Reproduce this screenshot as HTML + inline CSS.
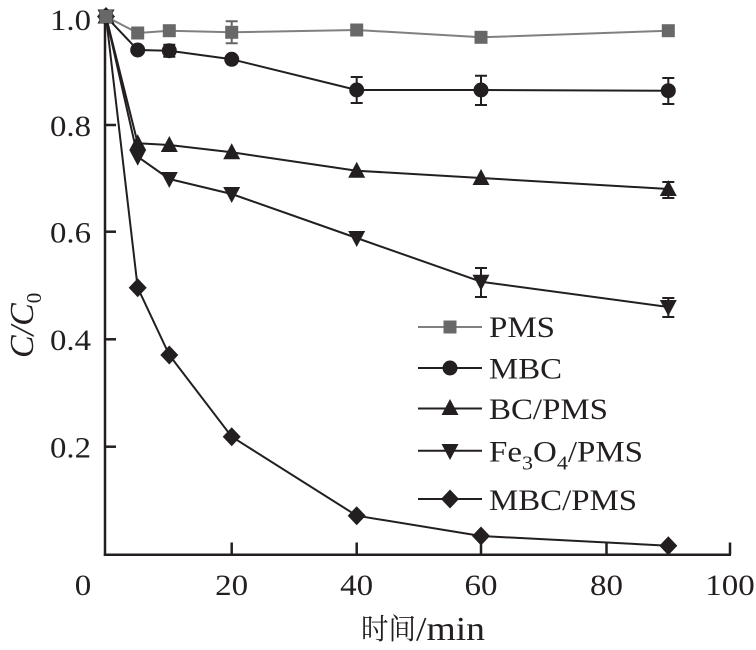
<!DOCTYPE html>
<html><head><meta charset="utf-8"><style>
html,body{margin:0;padding:0;background:#fff;}
svg{display:block;}
text{font-family:"Liberation Serif","Noto Serif CJK SC",serif;fill:#231f20;}
</style></head><body>
<svg width="756" height="650" viewBox="0 0 756 650" xmlns="http://www.w3.org/2000/svg">
<!-- axes -->
<g stroke="#231f20" stroke-width="2.5" fill="none">
<line x1="105" y1="15" x2="105" y2="555.9"/>
<line x1="103.8" y1="554.7" x2="731" y2="554.7"/>
<line x1="105" y1="125" x2="116" y2="125"/>
<line x1="105" y1="231.7" x2="116" y2="231.7"/>
<line x1="105" y1="339.3" x2="116" y2="339.3"/>
<line x1="105" y1="446.7" x2="116" y2="446.7"/>
<line x1="231.7" y1="554.7" x2="231.7" y2="542.5"/>
<line x1="356.7" y1="554.7" x2="356.7" y2="542.5"/>
<line x1="481" y1="554.7" x2="481" y2="542.5"/>
<line x1="606.5" y1="554.7" x2="606.5" y2="542.5"/>
<line x1="730" y1="554.7" x2="730" y2="542.5"/>
</g>
<!-- y tick labels -->
<g font-size="30" text-anchor="end">
<text x="91" y="30" textLength="41" lengthAdjust="spacingAndGlyphs">1.0</text>
<text x="91" y="136" textLength="41" lengthAdjust="spacingAndGlyphs">0.8</text>
<text x="91" y="242.5" textLength="41" lengthAdjust="spacingAndGlyphs">0.6</text>
<text x="91" y="350" textLength="41" lengthAdjust="spacingAndGlyphs">0.4</text>
<text x="91" y="457.5" textLength="41" lengthAdjust="spacingAndGlyphs">0.2</text>
</g>
<!-- x tick labels -->
<g font-size="30" text-anchor="middle">
<text x="83" y="595" textLength="16.5" lengthAdjust="spacingAndGlyphs">0</text>
<text x="231.7" y="595" textLength="33" lengthAdjust="spacingAndGlyphs">20</text>
<text x="356.7" y="595" textLength="33" lengthAdjust="spacingAndGlyphs">40</text>
<text x="481" y="595" textLength="33" lengthAdjust="spacingAndGlyphs">60</text>
<text x="606.5" y="595" textLength="33" lengthAdjust="spacingAndGlyphs">80</text>
<text x="730" y="595" textLength="49.5" lengthAdjust="spacingAndGlyphs">100</text>
</g>
<!-- axis titles -->
<text x="361" y="639" font-size="29" textLength="55" lengthAdjust="spacingAndGlyphs" font-family="'Noto Serif CJK SC','Noto Sans CJK SC',serif">时间</text>
<text x="416" y="640" font-size="34" textLength="69" lengthAdjust="spacingAndGlyphs">/min</text>
<g transform="translate(33,358) rotate(-90)">
<text x="0" y="0" font-size="34" font-style="italic">C/C<tspan font-size="21" dy="8" font-style="normal">0</tspan></text>
</g>

<!-- series lines -->
<g fill="none" stroke-width="2" stroke-linejoin="round">
<polyline stroke="#808080" points="106,16.5 137.7,33 169.3,30.7 231.7,32.3 356.7,30 481,37.3 668.3,30.7"/>
<polyline stroke="#231f20" points="106,16.5 137.7,50 169.3,50.7 231.7,59.3 356.7,90 481,90 668.3,90.7"/>
<polyline stroke="#231f20" points="106,16.5 137.7,143.3 169.3,145 231.7,152.3 356.7,170.7 481,178 668.3,189"/>
<polyline stroke="#231f20" points="106,16.5 137.7,156.7 169.3,179 231.7,194 356.7,238 481,281.7 668.3,307"/>
<polyline stroke="#231f20" points="106,16.5 137.7,287.7 169.3,355 231.7,436.7 356.7,515.7 481,536 668.3,545.7"/>
</g>
<!-- error bars -->
<g stroke="#231f20" stroke-width="2" fill="none">
<path stroke="#666" d="M231.7,21.3V43.3M225.7,21.3h12M225.7,43.3h12"/>
<path d="M169.3,44.7V56.7M163.3,44.7h12M163.3,56.7h12"/>
<path d="M356.7,77V103M350.7,77h12M350.7,103h12"/>
<path d="M481,75.7V105M475,75.7h12M475,105h12"/>
<path d="M668.3,78V104M662.3,78h12M662.3,104h12"/>
<path d="M668.3,182V198M662.3,182h12M662.3,198h12"/>
<path d="M481,268V297M475,268h12M475,297h12"/>
<path d="M668.3,298V317M662.3,298h12M662.3,317h12"/>
</g>
<!-- markers -->
<defs>
<rect id="sq" x="-6.5" y="-6.5" width="13" height="13" fill="#686868"/>
<circle id="ci" r="7.5" fill="#231f20"/>
<polygon id="tu" points="0,-9 -8.5,7 8.5,7" fill="#231f20"/>
<polygon id="td" points="-8.5,-7 8.5,-7 0,9" fill="#231f20"/>
<polygon id="di" points="0,-9.5 9,0 0,9.5 -9,0" fill="#231f20"/>
</defs>
<g>
<use href="#di" x="106" y="16.5"/><use href="#di" x="137.7" y="287.7"/><use href="#di" x="169.3" y="355"/><use href="#di" x="231.7" y="436.7"/><use href="#di" x="356.7" y="515.7"/><use href="#di" x="481" y="536"/><use href="#di" x="668.3" y="545.7"/>
<use href="#td" x="106" y="16.5"/><use href="#td" x="137.7" y="156.7"/><use href="#td" x="169.3" y="179"/><use href="#td" x="231.7" y="194"/><use href="#td" x="356.7" y="238"/><use href="#td" x="481" y="281.7"/><use href="#td" x="668.3" y="307"/>
<use href="#tu" x="106" y="16.5"/><use href="#tu" x="137.7" y="143.3"/><use href="#tu" x="169.3" y="145"/><use href="#tu" x="231.7" y="152.3"/><use href="#tu" x="356.7" y="170.7"/><use href="#tu" x="481" y="178"/><use href="#tu" x="668.3" y="189"/>
<use href="#ci" x="106" y="16.5"/><use href="#ci" x="137.7" y="50"/><use href="#ci" x="169.3" y="50.7"/><use href="#ci" x="231.7" y="59.3"/><use href="#ci" x="356.7" y="90"/><use href="#ci" x="481" y="90"/><use href="#ci" x="668.3" y="90.7"/>
<use href="#sq" x="106" y="16.5"/><use href="#sq" x="137.7" y="33"/><use href="#sq" x="169.3" y="30.7"/><use href="#sq" x="231.7" y="32.3"/><use href="#sq" x="356.7" y="30"/><use href="#sq" x="481" y="37.3"/><use href="#sq" x="668.3" y="30.7"/>
</g>
<!-- legend -->
<g stroke-width="2">
<line x1="418" y1="327" x2="482" y2="327" stroke="#808080"/>
<line x1="418" y1="368" x2="482" y2="368" stroke="#231f20"/>
<line x1="418" y1="408.5" x2="482" y2="408.5" stroke="#231f20"/>
<line x1="418" y1="450.7" x2="482" y2="450.7" stroke="#231f20"/>
<line x1="418" y1="499" x2="482" y2="499" stroke="#231f20"/>
</g>
<use href="#sq" x="450" y="327"/>
<use href="#ci" x="450" y="368"/>
<use href="#tu" x="450" y="408"/>
<use href="#td" x="450" y="451"/>
<use href="#di" x="450" y="499"/>
<g font-size="30">
<text x="489" y="337" textLength="66" lengthAdjust="spacingAndGlyphs">PMS</text>
<text x="489" y="378.5" textLength="73" lengthAdjust="spacingAndGlyphs">MBC</text>
<text x="489" y="419" textLength="119" lengthAdjust="spacingAndGlyphs">BC/PMS</text>
<g transform="translate(489,461.5) scale(1.1,1)">
<text x="0" y="0">Fe<tspan font-size="20" dy="8">3</tspan><tspan dy="-8">O</tspan><tspan font-size="20" dy="8">4</tspan><tspan dy="-8">/PMS</tspan></text>
</g>
<text x="489" y="510" textLength="148" lengthAdjust="spacingAndGlyphs">MBC/PMS</text>
</g>
</svg>
</body></html>
